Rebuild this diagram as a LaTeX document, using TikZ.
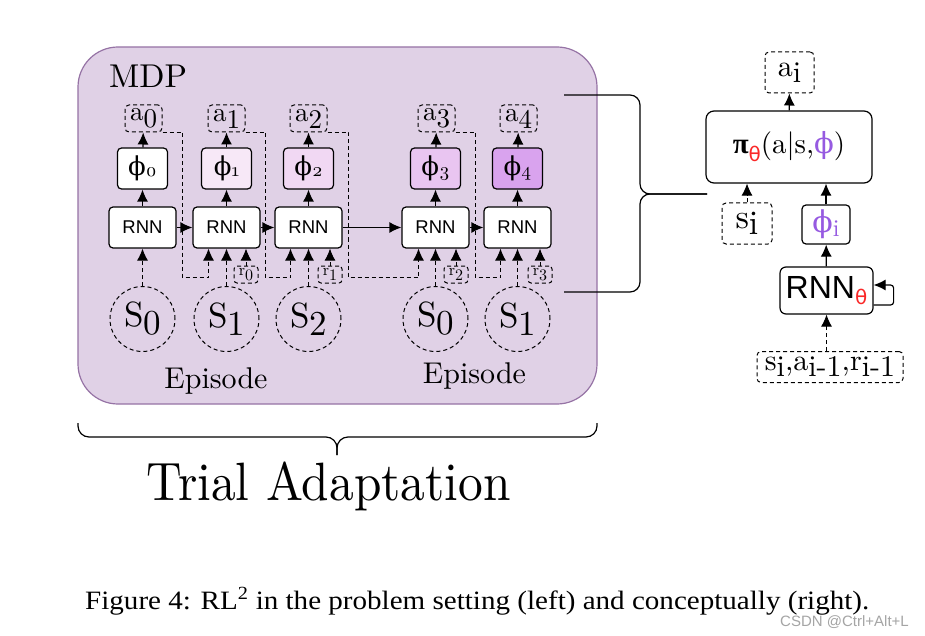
\documentclass[tikz,border=0pt]{standalone}
\usepackage{fontspec}
\setmainfont{lmroman10-regular.otf}[BoldFont=lmroman10-bold.otf,ItalicFont=lmroman10-italic.otf]
\usetikzlibrary{arrows.meta,calc}
\newfontfamily\sansf{Liberation Sans}
\newfontfamily\capf{Liberation Serif}
\newfontfamily\dvs{DejaVu Serif}
\newfontfamily\dvsans{DejaVu Sans}
\newfontfamily\osf{lmroman10-regular.otf}[Numbers=OldStyle]
\definecolor{mdpfill}{RGB}{224,209,230}
\definecolor{mdpdraw}{RGB}{150,115,165}
\definecolor{phia}{RGB}{247,232,247}
\definecolor{phib}{RGB}{241,216,243}
\definecolor{phic}{RGB}{233,197,241}
\definecolor{phid}{RGB}{217,163,238}
\definecolor{thred}{RGB}{250,40,40}
\definecolor{phipurple}{RGB}{150,90,225}
\definecolor{wmgray}{RGB}{165,165,165}
\newcommand\lab[4]{{\fontsize{#1}{#1}\selectfont #2\raisebox{-#3pt}{#4}}}
\newcommand\phil[1]{{\dvs\fontsize{26}{26}\selectfont ϕ}{\osf\fontsize{19}{19}\selectfont\raisebox{-1pt}{#1}}}
\begin{document}
\begin{tikzpicture}[x=1pt,y=-1pt,
  arr/.style={-{Latex[length=12pt,width=11pt]}},
  box/.style={draw,line width=1.2pt,rounded corners=4pt,inner sep=0pt,fill=white},
  rnnbox/.style={box,minimum width=67pt,minimum height=41pt,font={\sansf\fontsize{18.5}{18.5}\selectfont}},
  phibox/.style={box,minimum width=50pt,minimum height=41pt},
  dbox/.style={draw,line width=1pt,dash pattern=on 4pt off 3pt,rounded corners=4pt,inner sep=0pt},
  abox/.style={dbox,minimum width=37pt,minimum height=27pt},
  rbox/.style={dbox,rounded corners=3pt,minimum width=24pt,minimum height=17pt},
  scirc/.style={draw,circle,line width=1pt,dash pattern=on 4pt off 3pt,minimum size=65pt,inner sep=0pt},
  dline/.style={line width=1pt,dash pattern=on 4pt off 3pt},
  sline/.style={line width=1.2pt},
  bigtext/.style={font={\fontsize{30}{30}\selectfont}},
]
\useasboundingbox (0,0) rectangle (925,636);
\fill[white] (0,0) rectangle (925,636);

% MDP region
\node[draw=mdpdraw,fill=mdpfill,line width=1.2pt,rounded corners=40pt,
      minimum width=519pt,minimum height=357pt,inner sep=0pt] (mdp) at (337.5,225.5) {};
\node[anchor=base west,font={\fontsize{33}{33}\selectfont},inner sep=0pt] (mdplbl) at (109,88) {MDP};

% RNN cells
\node[rnnbox] (rnn0) at (142.5,227.5) {RNN};
\node[rnnbox] (rnn1) at (226.5,227.5) {RNN};
\node[rnnbox] (rnn2) at (308.5,227.5) {RNN};
\node[rnnbox] (rnn3) at (435.5,227.5) {RNN};
\node[rnnbox] (rnn4) at (517.5,227.5) {RNN};

% phi cells
\node[phibox] (phi0) at (142.5,168.5) {\phil{0}};
\node[phibox,fill=phia] (phi1) at (226.5,168.5) {\phil{1}};
\node[phibox,fill=phib] (phi2) at (308.5,168.5) {\phil{2}};
\node[phibox,fill=phic] (phi3) at (435.5,168.5) {\phil{3}};
\node[phibox,fill=phid] (phi4) at (517.5,168.5) {\phil{4}};

% actions
\node[abox] (a0) at (143.5,118.5) {\lab{27}{a}{7}{0}};
\node[abox] (a1) at (226.5,118.5) {\lab{27}{a}{7}{1}};
\node[abox] (a2) at (308.5,118.5) {\lab{27}{a}{7}{2}};
\node[abox] (a3) at (436.5,118.5) {\lab{27}{a}{7}{3}};
\node[abox] (a4) at (518.5,118.5) {\lab{27}{a}{7}{4}};

% states
\node[scirc] (s0) at (142.5,319) {\lab{35}{S}{8}{0}};
\node[scirc] (s1) at (226.5,319) {\lab{35}{S}{8}{1}};
\node[scirc] (s2) at (308.5,319) {\lab{35}{S}{8}{2}};
\node[scirc] (s3) at (435.5,319) {\lab{35}{S}{8}{0}};
\node[scirc] (s4) at (517.5,319) {\lab{35}{S}{8}{1}};

% rewards
\node[rbox] (r0) at (246,274.5) {\lab{16}{r}{5}{0}};
\node[rbox] (r1) at (330,274.5) {\lab{16}{r}{5}{1}};
\node[rbox] (r2) at (456,274.5) {\lab{16}{r}{5}{2}};
\node[rbox] (r3) at (540,274.5) {\lab{16}{r}{5}{3}};

% episode labels
\node[bigtext,anchor=base,inner sep=0pt] (ep1) at (216,388) {Episode};
\node[bigtext,anchor=base,inner sep=0pt] (ep2) at (474.5,383) {Episode};

% vertical arrows
\foreach \i in {0,...,4}{
  \draw[sline,arr] (rnn\i) -- (phi\i);
  \draw[sline,arr] (phi\i) -- (a\i);
  \draw[dline,arr] (s\i.north) -- (s\i.north |- rnn\i.south);
}
% recurrent arrows
\draw[sline,arr] (rnn0) -- (rnn1);
\draw[sline,arr] (rnn1) -- (rnn2);
\draw[sline,arr] (rnn2) -- (rnn3);
\draw[sline,arr] (rnn3) -- (rnn4);
% reward arrows
\draw[dline,arr] (r0.north) -- (r0.north |- rnn1.south);
\draw[dline,arr] (r1.north) -- (r1.north |- rnn2.south);
\draw[dline,arr] (r2.north) -- (r2.north |- rnn3.south);
\draw[dline,arr] (r3.north) -- (r3.north |- rnn4.south);
% previous action feedback
\draw[dline,arr] (a0.south east) -- ++(20,0) -- ++(0,145) -| ($(rnn1.south)+(-18,0)$);
\draw[dline,arr] (a1.south east) -- ++(20,0) -- ++(0,145) -| ($(rnn2.south)+(-18,0)$);
\draw[dline,arr] (a2.south east) -- ++(21,0) -- ++(0,145) -| ($(rnn3.south)+(-17,0)$);
\draw[dline,arr] (a3.south east) -- ++(20,0) -- ++(0,145) -| ($(rnn4.south)+(-17,0)$);

% bottom brace
\draw[sline,rounded corners=11pt] (78,423) |- (337,437) -- (337,455);
\draw[sline,rounded corners=11pt] (597,423) |- (337,437) -- (337,455);
\node[anchor=base,inner sep=0pt,font={\fontsize{54}{54}\selectfont}] (trial) at (328.5,500) {\scalebox{0.915}[1]{Trial Adaptation}};

% right brace
\coordinate (bt) at (564,95);
\coordinate (bb) at (564,292);
\coordinate (bend) at (707,194);
\draw[sline,rounded corners=10pt] (bt) -| (640,194) -- (bend);
\draw[sline,rounded corners=10pt] (bb) -| (640,194) -- (bend);

% right-hand model
\node[dbox,minimum width=49pt,minimum height=41pt] (ai) at (789.5,72.5) {\lab{30}{a}{6}{i}};
\node[box,rounded corners=8pt,minimum width=166pt,minimum height=72pt] (pi) at (789,147)
  {\fontsize{29}{29}\selectfont{\capf\bfseries π}\raisebox{-8pt}{\color{thred}\dvsans\fontsize{20}{20}\selectfont θ}(a|s,{\color{phipurple}\dvs ϕ})};
\node[dbox,minimum width=50pt,minimum height=41pt] (si) at (747,223.5) {\lab{34}{s}{6}{i}};
\node[box,minimum width=48pt,minimum height=39pt] (phii) at (826,224.5)
  {\color{phipurple}{\dvs\fontsize{30}{30}\selectfont ϕ}{\fontsize{24}{24}\selectfont\raisebox{-4pt}{i}}};
\node[box,rounded corners=6pt,minimum width=93pt,minimum height=47pt] (rnnt) at (826.5,290.5)
  {{\sansf\fontsize{32}{32}\selectfont RNN}\raisebox{-6pt}{\color{thred}\dvsans\fontsize{20}{20}\selectfont θ}};
\node[dbox,minimum width=146pt,minimum height=31pt] (inp) at (830,367)
  {\fontsize{30}{30}\selectfont s\raisebox{-6pt}{i},a\raisebox{-6pt}{i-1},r\raisebox{-6pt}{i-1}};

\draw[sline,arr] (pi) -- (ai);
\draw[dline,arr] (si.north) -- (si.north |- pi.south);
\draw[sline,arr] (phii) -- (phii |- pi.south);
\draw[sline,arr] (rnnt) -- (phii);
\draw[dline,arr] (inp.north -| rnnt) -- (rnnt.south);
\draw[sline,arr,rounded corners=3pt] ($(rnnt.east)+(0,14.5)$) -| ($(rnnt.east)+(20,-5.5)$) -- ($(rnnt.east)+(0,-5.5)$);

% caption
\node[anchor=base west,inner sep=0pt,font={\capf\fontsize{26.5}{26.5}\selectfont}] (cap) at (85,609)
  {\scalebox{1.097}[1]{Figure 4: RL\textsuperscript{2} in the problem setting (left) and conceptually (right).}};
\node[anchor=base west,inner sep=0pt,text=wmgray,font={\sansf\fontsize{15}{15}\selectfont}] (wm) at (780,626) {CSDN @Ctrl+Alt+L};
\end{tikzpicture}
\end{document}
